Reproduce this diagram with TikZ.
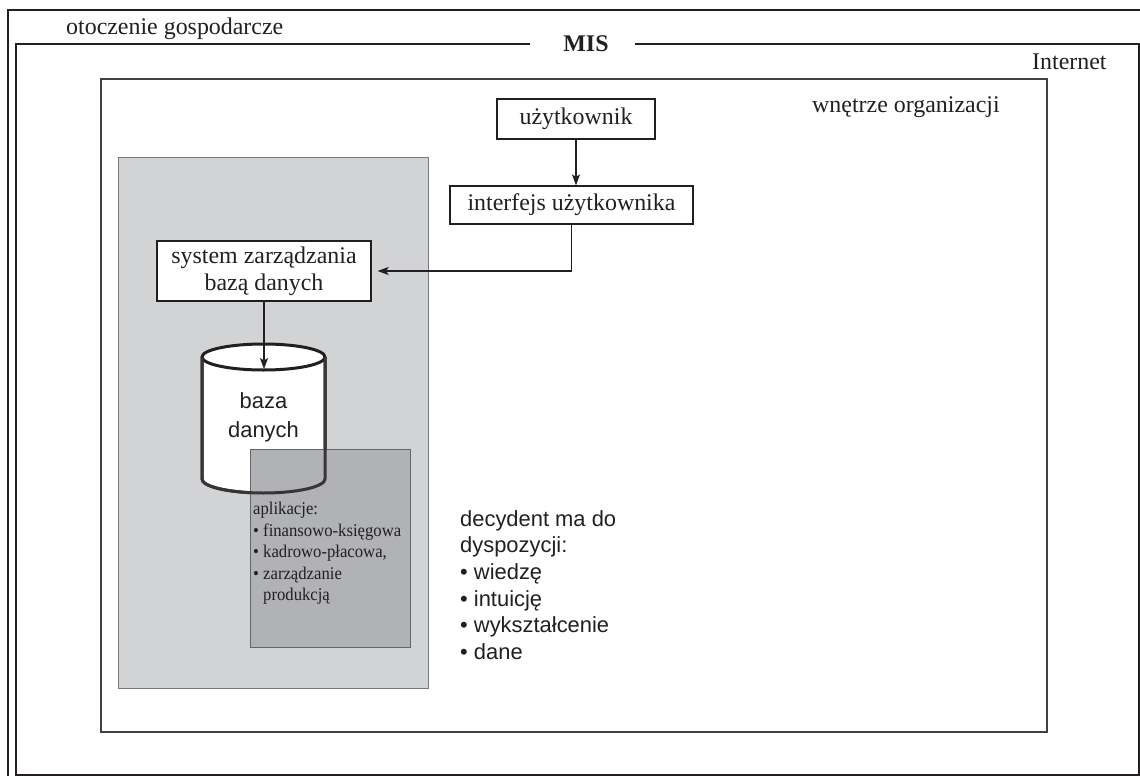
\documentclass[tikz,border=0pt]{standalone}
\usepackage{fontspec}
\setmainfont{Liberation Serif}
\newfontfamily\labelsans{Liberation Sans}
\newfontfamily\narrowserif[FakeStretch=0.93]{Liberation Serif}
\usetikzlibrary{arrows.meta}
\definecolor{ink}{RGB}{35,31,32}
\definecolor{panel}{RGB}{209,211,212}
\definecolor{panelline}{RGB}{120,121,124}
\definecolor{appfill}{RGB}{177,178,181}
\definecolor{appline}{RGB}{100,101,104}
\begin{document}
\begin{tikzpicture}[x=1bp,y=-1bp,
  every node/.style={text=ink, inner sep=0pt},
  txt/.style={font=\fontsize{24}{28}\selectfont},
  misfont/.style={font=\fontsize{24}{28}\selectfont\bfseries},
  sanstxt/.style={font=\labelsans\fontsize{22}{26.8}\selectfont, align=left},
  apptxt/.style={font=\narrowserif\fontsize{18}{21.6}\selectfont, align=left},
  box/.style={txt, draw=ink, line width=1.2bp, fill=white, align=center},
  conn/.style={draw=ink, line width=1.2bp, -{Stealth[length=11bp,width=8bp,inset=2.5bp]}},
  frame/.style={draw=ink, line width=1.5bp},
  cyl/.style={draw=ink, line width=3bp, line join=round},
]
\clip (0,0) rectangle (1140,776);
\fill[white] (0,0) rectangle (1140,776);

% business environment and MIS frames
\draw[frame] (8,10) rectangle (1170,810);
\node[txt, anchor=base west] (env) at (66,35) {otoczenie gospodarcze};
\node[misfont] (mis) at (586,44) {MIS};
\draw[frame] (530,44) -- (16,44) -- (16,775) -- (1139,775) -- (1139,44) -- (635,44);
\node[txt, anchor=base west] (net) at (1032,70) {Internet};

% organisation interior
\draw[draw=black!75, line width=2bp] (101,79) rectangle (1047,732);
\node[txt, anchor=base west] (org) at (812,113) {wnętrze organizacji};

% database panel
\draw[fill=panel, draw=panelline, line width=1bp] (118,157) rectangle (428,688);

% user chain
\node[box, minimum width=158bp, minimum height=40bp] (user) at (576,119) {użytkownik};
\node[box, minimum width=243bp, minimum height=38bp] (iface) at (571.5,205) {interfejs użytkownika};
\node[box, minimum width=214bp, minimum height=60bp, font=\fontsize{24}{27}\selectfont] (dbms) at (264,271) {system zarządzania\\bazą danych};

\draw[conn] (user.south) -- (user.south |- iface.north);
\draw[conn, shorten >=6bp] (iface.south) |- (dbms.east);

% database cylinder
\coordinate (dbtop) at (263.5,369);
\path[fill=white] (202,357) -- (202,479)
  arc[start angle=180, end angle=0, x radius=61.5, y radius=14]
  -- (325,357) arc[start angle=0, end angle=-180, x radius=61.5, y radius=13] -- cycle;
\draw[cyl] (202,357) -- (202,479)
  arc[start angle=180, end angle=0, x radius=61.5, y radius=14] -- (325,357);
\draw[cyl] (263.5,357) ellipse [x radius=61.5, y radius=13];
\node[sanstxt, align=center, font=\labelsans\fontsize{22}{29}\selectfont] (db) at (263.5,417) {baza\\danych};
\draw[conn] (dbms.south) -- (dbms.south |- dbtop);

% applications box over the cylinder
\draw[fill=appfill, draw=appline, line width=1bp] (250,449) rectangle (410,647);
\draw[cyl, draw=ink!90] (202,357) -- (202,479)
  arc[start angle=180, end angle=0, x radius=61.5, y radius=14] -- (325,357);
\node[apptxt, anchor=north west] (apps) at (253,502)
  {aplikacje:\\• finansowo-księgowa\\• kadrowo-płacowa,\\• zarządzanie\\\phantom{• }produkcją};

% decision maker resources
\node[sanstxt, anchor=north west] (dec) at (460,510)
  {decydent ma do\\dyspozycji:\\• wiedzę\\• intuicję\\• wykształcenie\\• dane};
\end{tikzpicture}
\end{document}
